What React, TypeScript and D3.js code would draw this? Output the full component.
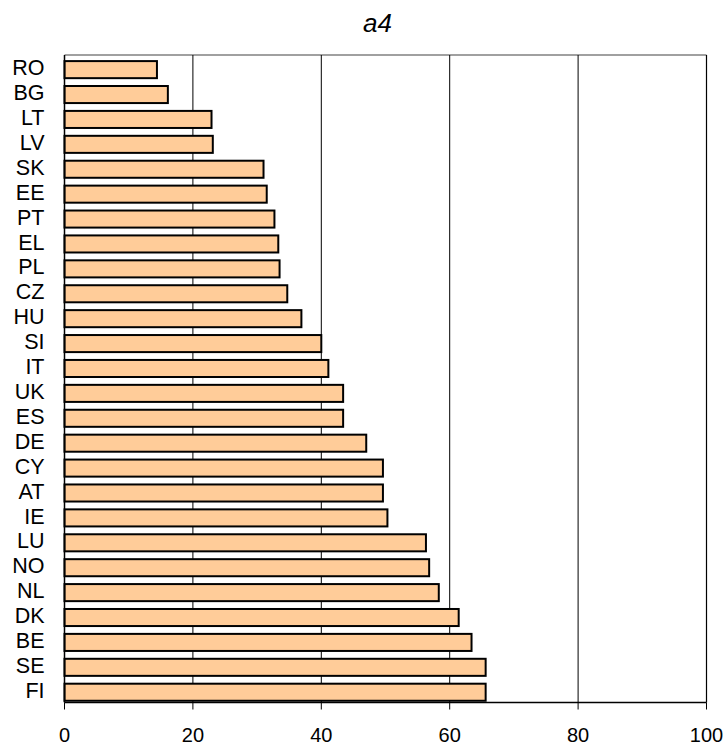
import React from "react";
import * as d3 from "d3";

const categories = ["RO","BG","LT","LV","SK","EE","PT","EL","PL","CZ","HU","SI","IT","UK","ES","DE","CY","AT","IE","LU","NO","NL","DK","BE","SE","FI"];
const values = [14.4,16.1,22.9,23.1,31.0,31.5,32.7,33.3,33.5,34.7,36.9,40.0,41.1,43.4,43.4,47.0,49.6,49.6,50.3,56.3,56.8,58.3,61.4,63.4,65.6,65.6];
const xTicks = [0,20,40,60,80,100];
const title = "a4";

const W = 728, H = 747;
const left = 64.5, right = 706.5, top = 55, bottom = 702.5;
const font = "'Liberation Sans', Arial, sans-serif";

export default function App() {
  const x = d3.scaleLinear().domain([0, 100]).range([left, right]);
  const y = d3.scaleBand<string>().domain(categories).range([top, bottom]).padding(0);
  const step = y.step();
  return (
    <svg width={W} height={H} style={{ position: "absolute", left: 0, top: 0, background: "#fff" }} fontFamily={font}>
      <text x={377.5} y={31.5} textAnchor="middle" fontSize={26} fontStyle="italic" fill="#000">{title}</text>
      {/* frame */}
      <line x1={left} x2={right} y1={top} y2={top} stroke="#808080" strokeWidth={1.5} />
      <line x1={right} x2={right} y1={top} y2={bottom} stroke="#000" strokeWidth={1.2} />
      {/* gridlines */}
      {xTicks.slice(1, -1).map(t => (
        <line key={t} x1={x(t)} x2={x(t)} y1={top} y2={bottom} stroke="#000" strokeWidth={1} />
      ))}
      {/* bars */}
      {categories.map((c, i) => (
        <rect key={c} x={x(0)} y={(y(c) as number) + step * 0.245} width={x(values[i]) - x(0)} height={step * 0.685}
          fill="#FFCC99" stroke="#000" strokeWidth={2} />
      ))}
      {/* axes */}
      <line x1={left} x2={left} y1={top} y2={bottom} stroke="#000" strokeWidth={1.5} />
      <line x1={left} x2={right} y1={bottom} y2={bottom} stroke="#000" strokeWidth={1.5} />
      {xTicks.map(t => (
        <g key={t}>
          <line x1={x(t)} x2={x(t)} y1={bottom} y2={bottom + 7} stroke="#000" strokeWidth={1} />
          <text x={x(t)} y={741.5} textAnchor="middle" fontSize={20} fill="#000">{t}</text>
        </g>
      ))}
      {categories.map(c => (
        <text key={c} x={44.5} y={(y(c) as number) + step / 2 + 7.8} textAnchor="end" fontSize={21.5} fill="#000">{c}</text>
      ))}
    </svg>
  );
}
